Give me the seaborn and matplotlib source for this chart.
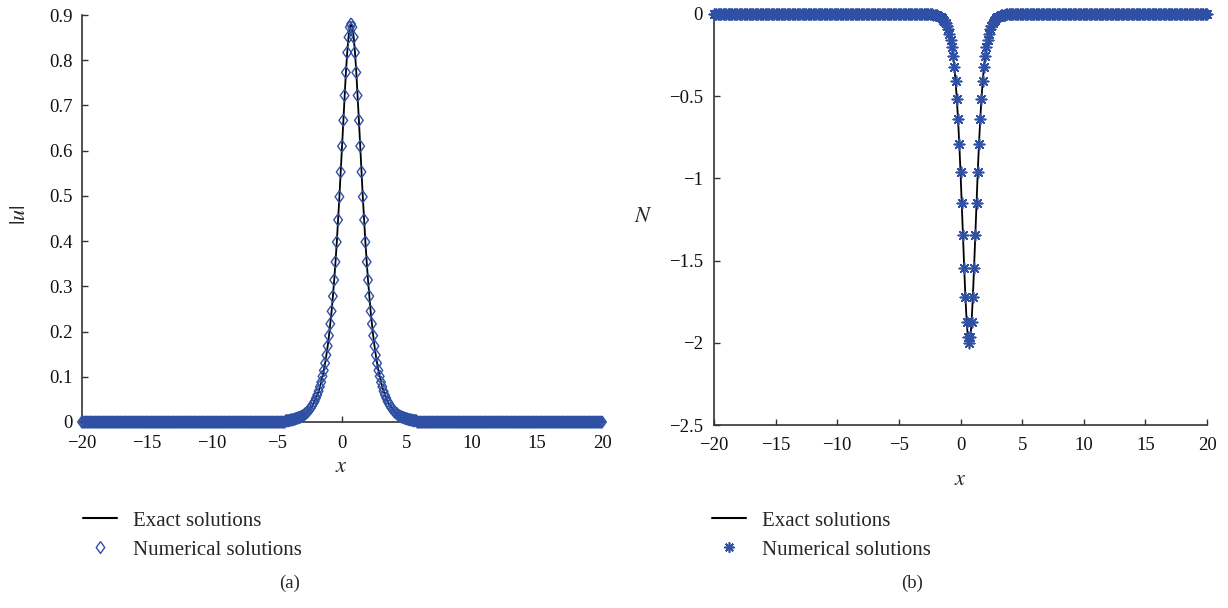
import numpy as np
import matplotlib
matplotlib.use("Agg")
import matplotlib.pyplot as plt
from matplotlib.lines import Line2D
import seaborn as sns

# grid of the scheme: step 0.1 on [-20, 20]
x_grid = np.linspace(-20, 20, 401)

# panel (a): |u|, zero outside x in [-4.3, 5.7], peak ~0.88 at x ~ 0.7
u_core = [0.003, 0.003, 0.003, 0.004, 0.005, 0.005, 0.006, 0.007, 0.008, 0.009,
          0.010, 0.011, 0.013, 0.014, 0.016, 0.019, 0.021, 0.024, 0.028, 0.031,
          0.036, 0.041, 0.046, 0.053, 0.060, 0.068, 0.078, 0.088, 0.101, 0.114,
          0.130, 0.148, 0.168, 0.191, 0.217, 0.245, 0.278, 0.314, 0.354, 0.398,
          0.447, 0.498, 0.553, 0.610, 0.667, 0.722, 0.773, 0.817, 0.851, 0.873,
          0.880,
          0.873, 0.851, 0.817, 0.773, 0.722, 0.667, 0.610, 0.553, 0.498, 0.447,
          0.398, 0.354, 0.314, 0.278, 0.245, 0.217, 0.191, 0.168, 0.148, 0.130,
          0.114, 0.101, 0.088, 0.078, 0.068, 0.060, 0.053, 0.046, 0.041, 0.036,
          0.031, 0.028, 0.024, 0.021, 0.019, 0.016, 0.014, 0.013, 0.011, 0.010,
          0.009, 0.008, 0.007, 0.006, 0.005, 0.005, 0.004, 0.003, 0.003, 0.003]
u_abs = [0.0] * 157 + u_core + [0.0] * 143

# panel (b): N, zero outside x in [-2.8, 4.2], minimum ~-2 at x ~ 0.7
n_core = [-0.001, -0.001, -0.002, -0.002, -0.003, -0.003, -0.004, -0.006, -0.007, -0.009,
          -0.012, -0.016, -0.020, -0.026, -0.034, -0.044, -0.056, -0.073, -0.094, -0.121,
          -0.156, -0.199, -0.255, -0.324, -0.410, -0.515, -0.641, -0.790, -0.960, -1.148,
          -1.346, -1.544, -1.724, -1.871, -1.967,
          -2.000,
          -1.967, -1.871, -1.724, -1.544, -1.346, -1.148, -0.960, -0.790, -0.641, -0.515,
          -0.410, -0.324, -0.255, -0.199, -0.156, -0.121, -0.094, -0.073, -0.056, -0.044,
          -0.034, -0.026, -0.020, -0.016, -0.012, -0.009, -0.007, -0.006, -0.004, -0.003,
          -0.003, -0.002, -0.002, -0.001, -0.001]
n_vals = [0.0] * 172 + n_core + [0.0] * 158

x_ticks = [-20, -15, -10, -5, 0, 5, 10, 15, 20]
x_ticklabels = ["\u221220", "\u221215", "\u221210", "\u22125", "0", "5", "10", "15", "20"]
u_ticks = [0, 0.1, 0.2, 0.3, 0.4, 0.5, 0.6, 0.7, 0.8, 0.9]
u_ticklabels = ["0", "0.1", "0.2", "0.3", "0.4", "0.5", "0.6", "0.7", "0.8", "0.9"]
n_ticks = [-2.5, -2, -1.5, -1, -0.5, 0]
n_ticklabels = ["\u22122.5", "\u22122", "\u22121.5", "\u22121", "\u22120.5", "0"]

sns.set_theme(style="ticks")
plt.rcParams["font.family"] = ["Liberation Serif", "DejaVu Serif"]
plt.rcParams["mathtext.fontset"] = "stix"

blue = "#2F50A5"
spine = "#333333"
diamond = [(0, 1), (0.72, 0), (0, -1), (-0.72, 0), (0, 1)]
star = (8, 2, 0)

fig = plt.figure(figsize=(12.28, 6.08), dpi=100)
ax1 = fig.add_axes([82 / 1228, 1 - 422 / 608, 520 / 1228, 407 / 608])
ax2 = fig.add_axes([714 / 1228, 1 - 425 / 608, 493 / 1228, 411 / 608])

sns.lineplot(x=x_grid, y=u_abs, color="black", linewidth=1.3, ax=ax1, zorder=2)
sns.scatterplot(x=x_grid, y=u_abs, marker=diamond, s=75, facecolor="none",
                edgecolor=blue, linewidth=1.0, ax=ax1, clip_on=False, zorder=3)

sns.lineplot(x=x_grid, y=n_vals, color="black", linewidth=1.3, ax=ax2, zorder=2)
sns.scatterplot(x=x_grid, y=n_vals, marker=star, s=55, color=blue,
                edgecolor=blue, linewidth=1.2, ax=ax2, clip_on=False, zorder=3)

for ax in (ax1, ax2):
    sns.despine(ax=ax)
    ax.set_xlim(-20, 20)
    ax.set_xticks(x_ticks)
    ax.set_xticklabels(x_ticklabels)
    for s in ("left", "bottom"):
        ax.spines[s].set_color(spine)
        ax.spines[s].set_linewidth(1.2)
    ax.tick_params(direction="in", length=4, width=1, colors=spine,
                   labelcolor="#111111", labelsize=13.5)
    ax.tick_params(axis="x", pad=9)

ax1.set_ylim(0, 0.9)
ax1.set_yticks(u_ticks)
ax1.set_yticklabels(u_ticklabels)
ax1.tick_params(axis="y", pad=7)
ax2.set_ylim(-2.5, 0)
ax2.set_yticks(n_ticks)
ax2.set_yticklabels(n_ticklabels)
ax2.tick_params(axis="y", pad=8)

ax1.set_xlabel("$x$", fontsize=16, va="center", ha="center")
ax1.xaxis.set_label_coords(0.498, -0.113)
ax1.set_ylabel("$|u|$", fontsize=16, va="center", ha="center")
ax1.yaxis.set_label_coords(-0.119, 0.509)
ax2.set_xlabel("$x$", fontsize=16, va="center", ha="center")
ax2.xaxis.set_label_coords(0.5, -0.136)
ax2.set_ylabel("$N$", fontsize=16, rotation=0, va="center", ha="center")
ax2.yaxis.set_label_coords(-0.144, 0.506)

h_line = Line2D([], [], color="black", linewidth=1.5)
h_dia = Line2D([], [], linestyle="none", marker=diamond, markersize=8.5,
               markerfacecolor="none", markeredgecolor=blue, markeredgewidth=1.0)
h_star = Line2D([], [], linestyle="none", marker=star, markersize=7.5,
                markeredgecolor=blue, markeredgewidth=1.2)

leg_kw = dict(frameon=False, fontsize=15, loc="upper left", borderpad=0,
              borderaxespad=0, handlelength=1.63, handletextpad=0.75, labelspacing=0.46)
fig.legend([h_line, h_dia], ["Exact solutions", "Numerical solutions"],
           bbox_to_anchor=(83 / 1228, 1 - 511 / 608), **leg_kw)
fig.legend([h_line, h_star], ["Exact solutions", "Numerical solutions"],
           bbox_to_anchor=(712 / 1228, 1 - 511 / 608), **leg_kw)

fig.text(290 / 1228, 1 - 583 / 608, "(a)", fontsize=13.5, ha="center", va="center")
fig.text(912 / 1228, 1 - 583 / 608, "(b)", fontsize=13.5, ha="center", va="center")

fig.savefig("out.png", dpi=100)
